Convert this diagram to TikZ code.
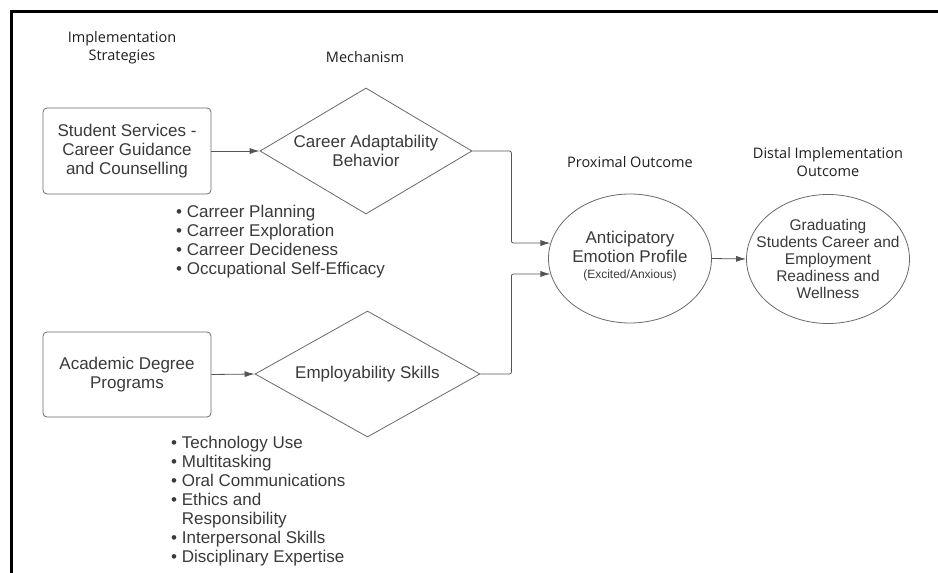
\documentclass[tikz,border=0pt]{standalone}
\usepackage{fontspec}
\setmainfont{Liberation Sans}
\newfontfamily\headfont{Open Sans}
\usetikzlibrary{shapes.geometric,arrows.meta}
\definecolor{ink}{HTML}{3A3A3A}
\definecolor{edge}{HTML}{6A6A6A}
\definecolor{wire}{HTML}{555555}
\tikzset{
  heading/.style={font=\headfont\fontsize{14.5}{18}\selectfont, text=black!88, align=center, inner sep=0pt},
  body/.style={font=\fontsize{17}{19}\selectfont, text=ink},
  strategy/.style={body, draw=edge, line width=0.8pt, rectangle, rounded corners=4pt,
    align=center, minimum width=168pt, minimum height=86pt, inner sep=0pt},
  mechanism/.style={draw=edge, line width=0.8pt, diamond, aspect=1.7, inner sep=0pt},
  outcome/.style={draw=edge, line width=0.8pt, ellipse, inner sep=0pt},
  inside/.style={body, align=center, inner sep=0pt},
  bullets/.style={body, align=left, inner sep=0pt, anchor=north west},
  conn/.style={draw=wire, line width=0.8pt, rounded corners=2pt,
    -{Latex[length=10pt,width=6pt]}},
}
\begin{document}
\begin{tikzpicture}[x=1pt,y=-1pt]
\useasboundingbox (0,0) rectangle (938,573);
\fill[white] (0,0) rectangle (938,573);
% outer frame (only its top and left edges lie within the page)
\draw[line width=3pt, line cap=rect] (11,580) -- (11,11) -- (945,11);

% column headings
\node[heading] (hImpl) at (122,48) {Implementation\\Strategies};
\node[heading] (hMech) at (365,57) {Mechanism};
\node[heading] (hProx) at (630,162) {Proximal Outcome};
\node[heading] (hDist) at (828,162) {Distal Implementation\\Outcome};

% implementation strategies
\node[strategy] (s1) at (127,151) {Student Services -\\Career Guidance\\and Counselling};
\node[strategy, minimum height=85pt] (s2) at (127,374.5) {Academic Degree\\Programs};

% mechanisms
\node[mechanism, minimum width=212pt, minimum height=126pt,
      label={[inside]center:Career Adaptability\\Behavior}] (d1) at (366,151) {};
\node[mechanism, minimum width=225pt, minimum height=126pt,
      label={[inside]center:Employability Skills}] (d2) at (367.5,374) {};

% outcomes
\node[outcome, minimum width=163pt, minimum height=129pt] (e1) at (630,258.5) {};
\node[inside] (e1t) at (630,256) {Anticipatory\\Emotion Profile\\[-3pt]{\fontsize{12}{14}\selectfont(Excited/Anxious)}};
\node[outcome, minimum width=163pt, minimum height=129pt,
      label={[inside, font=\fontsize{15.5}{17}\selectfont]center:Graduating\\Students Career and\\Employment\\Readiness and\\Wellness}] (e2) at (828,259) {};

% bullet lists
\node[bullets] (l1) at (176,205) {• Carreer Planning\\• Carreer Exploration\\• Carreer Decideness\\• Occupational Self-Efficacy};
\node[bullets] (l2) at (171,436) {• Technology Use\\• Multitasking\\• Oral Communications\\• Ethics and\\\phantom{• }Responsibility\\• Interpersonal Skills\\• Disciplinary Expertise};

% connectors
\draw[conn] (s1.east) -- (d1.west);
\draw[conn] (s2.east) -- (d2.west);
\draw[conn] (d1.east) -- ++(39,0) |- (e1.169);
\draw[conn] (d2.east) -- ++(31,0) |- (e1.191);
\draw[conn] (e1.east) -- (e2.west);
\end{tikzpicture}
\end{document}
